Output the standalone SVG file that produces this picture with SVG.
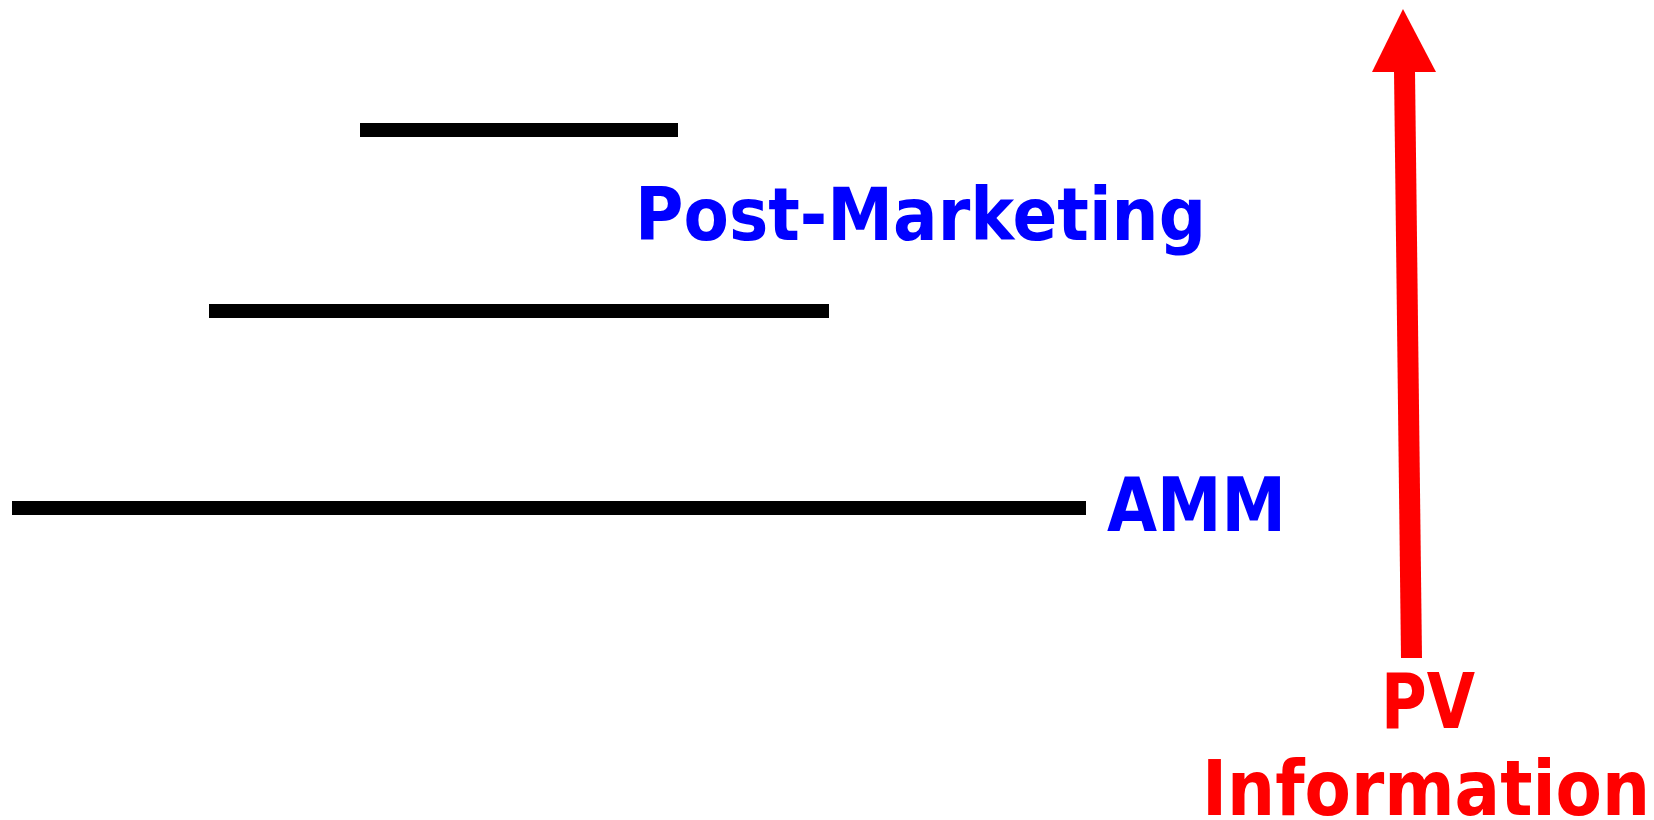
<svg xmlns="http://www.w3.org/2000/svg" width="1654" height="820" viewBox="0 0 1654 820">
<style>
.bar{fill:#000}
.blue{font-family:"DejaVu Sans","Liberation Sans",sans-serif;font-weight:bold;fill:#0000ff}
.red{font-family:"DejaVu Sans","Liberation Sans",sans-serif;font-weight:bold;fill:#ff0000}
</style>
<rect width="1654" height="820" fill="#fff"/>
<g id="levels">
<rect id="line-top" class="bar" x="360" y="123" width="318" height="14"/>
<rect id="line-middle" class="bar" x="209" y="304" width="620" height="14"/>
<rect id="line-bottom" class="bar" x="12" y="501" width="1074" height="14"/>
</g>
<g id="post-marketing">
<text class="blue" x="635" y="240" font-size="73" textLength="571" lengthAdjust="spacingAndGlyphs">Post-Marketing</text>
</g>
<g id="amm">
<text class="blue" x="1107" y="531" font-size="74" textLength="179" lengthAdjust="spacingAndGlyphs">AMM</text>
</g>
<g id="connectors">
<polygon fill="#ff0000" points="1394,71 1415,71 1422,658 1401,658"/>
<polygon fill="#ff0000" points="1403,9 1436,72 1372,72"/>
</g>
<g id="pv-information">
<text class="red" x="1381" y="728" font-size="77" textLength="94" lengthAdjust="spacingAndGlyphs">PV</text>
<text class="red" x="1202" y="815" font-size="77" textLength="448" lengthAdjust="spacingAndGlyphs">Information</text>
</g>
</svg>
